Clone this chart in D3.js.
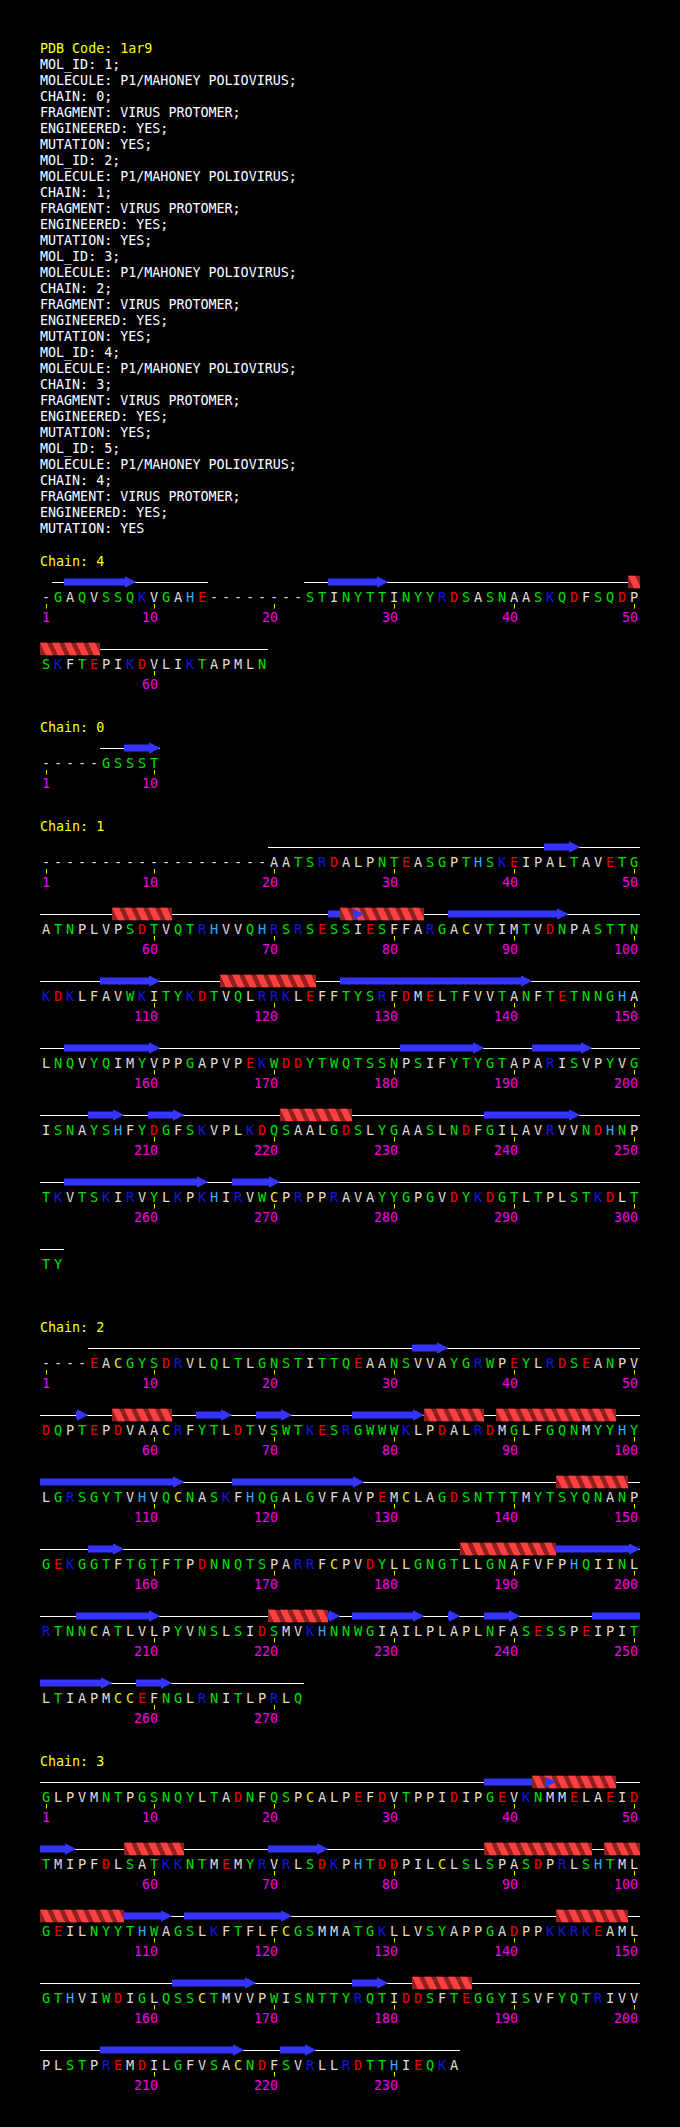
<!DOCTYPE html>
<html>
<head>
<meta charset="utf-8">
<script src="https://cdn.jsdelivr.net/npm/d3@7"></script>
<style>
html,body{margin:0;padding:0;background:#000;}
svg{display:block;}
text{white-space:pre;}
</style>
</head>
<body>
<script>
// ---------------- DATA ----------------
const headerTitle = "PDB Code: 1ar9";
const headerLines = [
  "MOL_ID: 1;", "MOLECULE: P1/MAHONEY POLIOVIRUS;", "CHAIN: 0;", "FRAGMENT: VIRUS PROTOMER;", "ENGINEERED: YES;", "MUTATION: YES;",
  "MOL_ID: 2;", "MOLECULE: P1/MAHONEY POLIOVIRUS;", "CHAIN: 1;", "FRAGMENT: VIRUS PROTOMER;", "ENGINEERED: YES;", "MUTATION: YES;",
  "MOL_ID: 3;", "MOLECULE: P1/MAHONEY POLIOVIRUS;", "CHAIN: 2;", "FRAGMENT: VIRUS PROTOMER;", "ENGINEERED: YES;", "MUTATION: YES;",
  "MOL_ID: 4;", "MOLECULE: P1/MAHONEY POLIOVIRUS;", "CHAIN: 3;", "FRAGMENT: VIRUS PROTOMER;", "ENGINEERED: YES;", "MUTATION: YES;",
  "MOL_ID: 5;", "MOLECULE: P1/MAHONEY POLIOVIRUS;", "CHAIN: 4;", "FRAGMENT: VIRUS PROTOMER;", "ENGINEERED: YES;", "MUTATION: YES"
];

const chainIds = ["4", "0", "1", "2", "3"];

const seq4 = [
  "-GAQVSSQKVGAHE--------STINYTTINYYRDSASNAASKQDFSQDP",
  "SKFTEPIKDVLIKTAPMLN"
].join("");
const helix4 = [[50, 55]];
const strand4 = [[3, 8], [25, 29]];

const seq0 = ["-----GSSST"].join("");
const helix0 = [];
const strand0 = [[8, 10]];

const seq1 = [
  "-------------------AATSRDALPNTEASGPTHSKEIPALTAVETG",
  "ATNPLVPSDTVQTRHVVQHRSRSESSIESFFARGACVTIMTVDNPASTTN",
  "KDKLFAVWKITYKDTVQLRRKLEFFTYSRFDMELTFVVTANFTETNNGHA",
  "LNQVYQIMYVPPGAPVPEKWDDYTWQTSSNPSIFYTYGTAPARISVPYVG",
  "ISNAYSHFYDGFSKVPLKDQSAALGDSLYGAASLNDFGILAVRVVNDHNP",
  "TKVTSKIRVYLKPKHIRVWCPRPPRAVAYYGPGVDYKDGTLTPLSTKDLT",
  "TY"
].join("");
const helix1 = [[57, 61], [76, 82], [116, 123], [221, 226]];
const strand1 = [[43, 45], [75, 77], [85, 94], [106, 110], [126, 141], [153, 160], [181, 187],
  [192, 196], [205, 207], [210, 212], [238, 245], [253, 264], [267, 270]];

const seq2 = [
  "----EACGYSDRVLQLTLGNSTITTQEAANSVVAYGRWPEYLRDSEANPV",
  "DQPTEPDVAACRFYTLDTVSWTKESRGWWWKLPDALRDMGLFGQNMYYHY",
  "LGRSGYTVHVQCNASKFHQGALGVFAVPEMCLAGDSNTTTMYTSYQNANP",
  "GEKGGTFTGTFTPDNNQTSPARRFCPVDYLLGNGTLLGNAFVFPHQIINL",
  "RTNNCATLVLPYVNSLSIDSMVKHNNWGIAILPLAPLNFASESSPEIPIT",
  "LTIAPMCCEFNGLRNITLPRLQ"
].join("");
const helix2 = [[57, 61], [83, 87], [89, 98], [144, 149], [186, 193], [220, 224]];
const strand2 = [[32, 34], [54, 54], [64, 66], [69, 71], [77, 82], [101, 112], [117, 127], [155, 157],
  [194, 200], [204, 210], [224, 225], [227, 232], [235, 235], [238, 240], [247, 256], [259, 261]];

const seq3 = [
  "GLPVMNTPGSNQYLTADNFQSPCALPEFDVTPPIDIPGEVKNMMELAEID",
  "TMIPFDLSATKKNTMEMYRVRLSDKPHTDDPILCLSLSPASDPRLSHTML",
  "GEILNYYTHWAGSLKFTFLFCGSMMATGKLLVSYAPPGADPPKKRKEAML",
  "GTHVIWDIGLQSSCTMVVPWISNTTYRQTIDDSFTEGGYISVFYQTRIVV",
  "PLSTPREMDILGFVSACNDFSVRLLRDTTHIEQKA"
].join("");
const helix3 = [[42, 48], [58, 62], [88, 96], [98, 107], [144, 149], [182, 186]];
const strand3 = [[38, 43], [51, 53], [70, 74], [108, 111], [113, 121], [162, 168], [177, 179], [206, 217], [221, 223]];

// residue classes
const residueGroups = [
  ["AVILPFM-", "#dcdcdc"],
  ["GSTNQYW", "#00e000"],
  ["KR", "#1414e6"],
  ["DE", "#ee0000"],
  ["H", "#30a8ff"],
  ["C", "#e8e800"]
];

// ---------------- DRAWING ----------------
const chainTable = [
  { id: chainIds[0], seq: seq4, helix: helix4, strand: strand4 },
  { id: chainIds[1], seq: seq0, helix: helix0, strand: strand0 },
  { id: chainIds[2], seq: seq1, helix: helix1, strand: strand1 },
  { id: chainIds[3], seq: seq2, helix: helix2, strand: strand2 },
  { id: chainIds[4], seq: seq3, helix: helix3, strand: strand3 }
];

const colorOf = {};
residueGroups.forEach(([letters, col]) => letters.split("").forEach(c => colorOf[c] = col));

const W = 680, H = 2127, ROW = 50;
const FONT = "'DejaVu Sans Mono', 'Liberation Mono', monospace";
const YELLOW = "#ffff00";

const svg = d3.select("body").append("svg")
  .attr("width", W).attr("height", H)
  .style("background", "#000")
  .attr("font-family", FONT);

const defs = svg.append("defs");

// column scale: left edge of in-row slot
const x = d3.scaleLinear().domain([0, ROW]).range([40, 640]);
const cw = x(1) - x(0);

// header
const hy = d3.scaleLinear().domain([0, 1]).range([53.3, 69.3]);
svg.append("text").attr("x", 40).attr("y", hy(0)).attr("fill", YELLOW)
  .attr("font-size", "13.33px").text(headerTitle);
svg.append("g").selectAll("text").data(headerLines).join("text")
  .attr("x", 40).attr("y", (d, i) => hy(i + 1))
  .attr("fill", "#ffffff").attr("font-size", "13.33px")
  .text(d => d);

function pieces(ranges, n) {
  const out = [];
  ranges.forEach(([a, b]) => {
    const r0 = Math.floor((a - 1) / ROW), r1 = Math.floor((Math.min(b, n) - 1) / ROW);
    for (let r = r0; r <= r1; r++) {
      const s = Math.max(a, r * ROW + 1), e = Math.min(b, r * ROW + ROW);
      if (s <= e) out.push({ row: r, c0: s - 1 - r * ROW, c1: e - r * ROW, head: e === b });
    }
  });
  return out;
}

let titleY = hy(headerLines.length) + 32.2;
let clipId = 0;

chainTable.forEach(ch => {
  const n = ch.seq.length;
  const nRows = Math.ceil(n / ROW);
  const yRow = d3.scaleLinear().domain([0, 1]).range([titleY + 36, titleY + 36 + 67]);
  const cy = r => yRow(r) - 19.5;
  const g = svg.append("g");

  g.append("text").attr("x", 40).attr("y", titleY).attr("fill", YELLOW)
    .attr("font-size", "13.33px").text("Chain: " + ch.id);

  // coil runs (observed residues)
  const runs = [];
  let s = null;
  for (let i = 0; i < n; i++) {
    if (ch.seq[i] !== "-") { if (s === null) s = i + 1; }
    else if (s !== null) { runs.push([s, i]); s = null; }
  }
  if (s !== null) runs.push([s, n]);

  g.append("g").selectAll("line").data(pieces(runs, n)).join("line")
    .attr("x1", d => x(d.c0)).attr("x2", d => x(d.c1))
    .attr("y1", d => Math.round(cy(d.row)) + 0.5).attr("y2", d => Math.round(cy(d.row)) + 0.5)
    .attr("stroke", "#ffffff").attr("stroke-width", 1);

  // strands
  const sp = pieces(ch.strand, n);
  const HL = 11, BH = 3.5, HH = 5.5;
  const strandPath = d => {
    const x0 = x(d.c0), x1 = x(d.c1), c = cy(d.row);
    if (!d.head) return `M${x0},${c - BH}H${x1}V${c + BH}H${x0}Z`;
    const xh = Math.max(x0, x1 - HL);
    return `M${x0},${c - BH}H${xh}V${c - HH}L${x1},${c}L${xh},${c + HH}V${c + BH}H${x0}Z`;
  };
  g.append("g").selectAll("path").data(sp).join("path")
    .attr("d", strandPath).attr("fill", "#3535ff");

  // helices
  const hp = pieces(ch.helix, n);
  hp.forEach(d => {
    const x0 = x(d.c0), x1 = x(d.c1), c = cy(d.row);
    const top = c - 6.5, bot = c + 6.5;
    const id = "hclip" + (clipId++);
    defs.append("clipPath").attr("id", id).append("rect")
      .attr("x", x0).attr("y", top).attr("width", x1 - x0).attr("height", bot - top);
    const hg = g.append("g").attr("clip-path", `url(#${id})`);
    hg.append("rect").attr("x", x0).attr("y", top).attr("width", x1 - x0).attr("height", bot - top)
      .attr("fill", "#8e2020");
    hg.selectAll("path").data(d3.range(d.c0, d.c1)).join("path")
      .attr("d", k => {
        const xl = x(k);
        return `M${xl},${top}L${xl + 7},${top}L${xl + 13},${bot}L${xl + 6},${bot}Z`;
      })
      .attr("fill", "#ff4040");
  });

  // arrow heads on top of helices
  g.append("g").selectAll("path").data(sp.filter(d => d.head)).join("path")
    .attr("d", d => {
      const x1 = x(d.c1), c = cy(d.row), xh = Math.max(x(d.c0), x1 - HL);
      return `M${xh},${c - HH}L${x1},${c}L${xh},${c + HH}Z`;
    })
    .attr("fill", "#3535ff");

  // residues
  const res = ch.seq.split("").map((aa, i) => ({ aa, num: i + 1, row: Math.floor(i / ROW), col: i % ROW }));
  g.append("g").selectAll("text").data(res).join("text")
    .attr("x", d => x(d.col) + cw / 2).attr("y", d => yRow(d.row))
    .attr("text-anchor", "middle").attr("font-size", "13.6px")
    .attr("fill", d => colorOf[d.aa] || "#dcdcdc")
    .text(d => d.aa);

  // ticks and labels
  const tk = res.filter(d => d.num === 1 || d.num % 10 === 0);
  g.append("g").selectAll("line").data(tk).join("line")
    .attr("x1", d => Math.round(x(d.col) + cw / 2) + 0.5).attr("x2", d => Math.round(x(d.col) + cw / 2) + 0.5)
    .attr("y1", d => yRow(d.row) + 2.5).attr("y2", d => yRow(d.row) + 7)
    .attr("stroke", "#e8e800").attr("stroke-width", 1);
  g.append("g").selectAll("text").data(tk).join("text")
    .attr("x", d => x(d.col) + cw / 2 + 4).attr("y", d => yRow(d.row) + 20)
    .attr("text-anchor", "end").attr("font-size", "13.33px")
    .attr("fill", "#ee00ee")
    .text(d => String(d.num));

  titleY = yRow(nRows - 1) + 63;
});
</script>
</body>
</html>
